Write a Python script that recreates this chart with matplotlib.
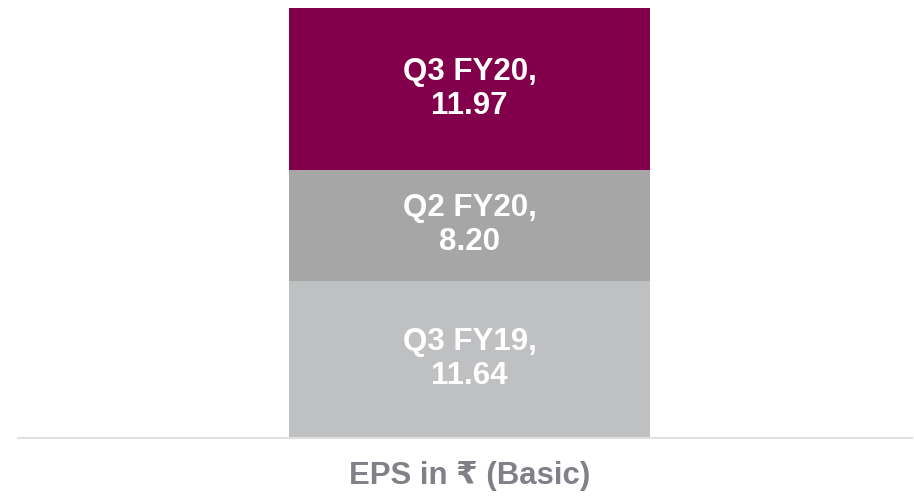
import matplotlib.pyplot as plt

# segments bottom to top
labels = ["Q3 FY19", "Q2 FY20", "Q3 FY20"]
values = [11.64, 8.20, 11.97]
colors = ["#bfc0c2", "#a6a6a6", "#82004b"]
xlabel = "EPS in ₹ (Basic)"

plt.rcParams['font.family'] = ['Liberation Sans', 'DejaVu Sans']

fig = plt.figure(figsize=(9.14, 4.96), dpi=100)
ax = fig.add_axes([18 / 914, 58 / 496, 894 / 914, 430 / 496])

bottom = 0
for lab, val, col in zip(labels, values, colors):
    ax.bar(0, val, width=0.4, bottom=bottom, color=col)
    ax.text(0, bottom + val / 2, f"{lab},\n{val:.2f}", ha='center', va='center',
            color='white', fontsize=22.5, fontweight='bold', linespacing=1.18)
    bottom += val

ax.set_xlim(-0.5003, 0.4903)
ax.set_ylim(0, sum(values))
for s in ['top', 'right', 'left']:
    ax.spines[s].set_visible(False)
ax.spines['bottom'].set_color('#e0e0e0')
ax.spines['bottom'].set_linewidth(1.5)
ax.set_xticks([])
ax.set_yticks([])

fig.text(469.5 / 914, 1 - 476 / 496, xlabel, ha='center', va='center',
         fontsize=22.4, fontweight='bold', color='#808088')

fig.savefig("out.png")
